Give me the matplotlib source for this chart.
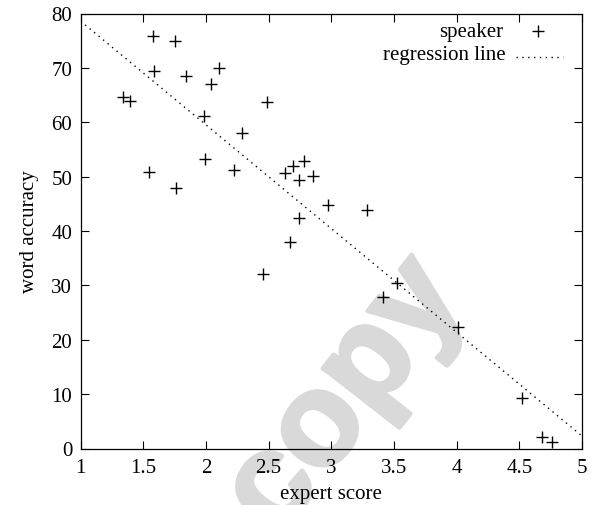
import matplotlib
matplotlib.use("Agg")
import matplotlib.pyplot as plt
import matplotlib.patheffects as pe

expert_score = [1.575, 1.753, 1.586, 1.841, 2.104, 2.040, 1.336, 1.394, 2.490, 1.984,
                2.290, 1.992, 1.546, 2.224, 1.759, 2.631, 2.697, 2.780, 2.740, 2.852,
                2.976, 2.740, 3.285, 2.671, 2.453, 3.524, 3.413, 4.008, 4.524, 4.678, 4.758]
word_accuracy = [75.9, 74.9, 69.4, 68.5, 70.0, 67.1, 64.6, 63.9, 63.7, 61.2,
                 58.0, 53.3, 50.9, 51.2, 48.0, 50.7, 52.0, 52.9, 49.3, 50.2,
                 44.8, 42.4, 43.9, 38.0, 32.1, 30.4, 27.8, 22.4, 9.35, 2.06, 1.14]
reg_x = [1.0, 5.0]
reg_y = [78.6, 2.3]
x_ticks = [1, 1.5, 2, 2.5, 3, 3.5, 4, 4.5, 5]
x_tick_labels = ["1", "1.5", "2", "2.5", "3", "3.5", "4", "4.5", "5"]
y_ticks = [0, 10, 20, 30, 40, 50, 60, 70, 80]

plt.rcParams['font.family'] = ['Liberation Serif', 'DejaVu Serif']
W, H = 597, 506
FS = 15
fig = plt.figure(figsize=(W / 100, H / 100), dpi=100)
ax = fig.add_axes([80.6 / W, 1 - 449.5 / H, (582 - 80.6) / W, (449.5 - 14.5) / H])
ax.set_facecolor('none')

# watermark
fig.text(345 / W, 1 - 398 / H, "copy", fontsize=95, fontweight='bold',
         family='Liberation Sans', color='#d9d9d9', rotation=52,
         ha='center', va='center', rotation_mode='anchor', zorder=-5,
         path_effects=[pe.withStroke(linewidth=3, foreground='#d9d9d9')])

ax.plot(expert_score, word_accuracy, linestyle='none', marker='+', ms=9, mew=1.0,
        color='black', zorder=3)
ax.plot(reg_x, reg_y, color='black', lw=1.0, linestyle=(0, (1, 3.2)), zorder=2)

ax.set_xlim(1, 5)
ax.set_ylim(0, 80)
ax.set_xticks(x_ticks)
ax.set_xticklabels(x_tick_labels)
ax.set_yticks(y_ticks)
ax.tick_params(direction='in', length=6, width=0.8, top=True, right=True,
               labelsize=FS, pad=7)
ax.tick_params(axis='y', pad=6)
for s in ax.spines.values():
    s.set_linewidth(0.9)
ax.set_xlabel("expert score", fontsize=FS, labelpad=5)
ax.set_ylabel("word accuracy", fontsize=FS, labelpad=9)

# gnuplot-style key (text right-aligned, sample on the right)
tr = ax.transAxes
def ax_xy(px, py):
    return ((px - 80.6) / (582 - 80.6), (449.5 - py) / (449.5 - 14.5))
tx, ty = ax_xy(503, 33)
ax.text(tx, ty, "speaker", transform=tr, ha='right', va='center', fontsize=FS)
mx, my = ax_xy(538, 32)
ax.plot([mx], [my], transform=tr, marker='+', ms=9, mew=1.0, color='black', clip_on=False)
tx2, ty2 = ax_xy(506, 56)
ax.text(tx2, ty2, "regression line", transform=tr, ha='right', va='center', fontsize=FS)
l1x, l1y = ax_xy(516, 58)
l2x, _ = ax_xy(563, 58)
ax.plot([l1x, l2x], [l1y, l1y], transform=tr, color='black', lw=1.0,
        linestyle=(0, (1, 3.2)))

fig.savefig("out.png", dpi=100)
